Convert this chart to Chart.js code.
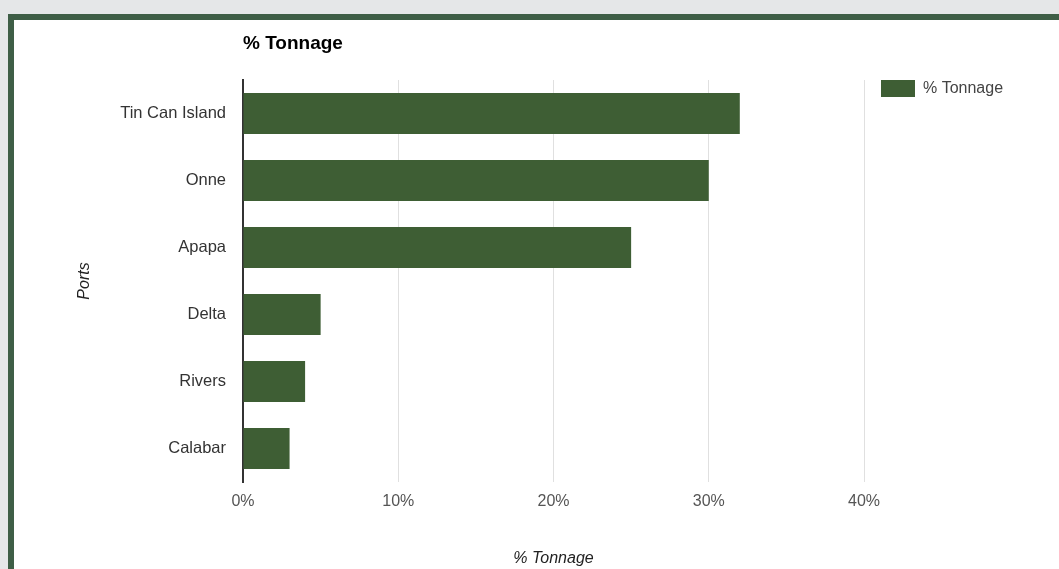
<!DOCTYPE html>
<html>
<head>
<meta charset="utf-8">
<script src="https://cdn.jsdelivr.net/npm/chart.js@4"></script>
<style>
  body { margin: 0; background: #e5e7e8; width: 1059px; height: 569px; overflow: hidden; position: relative; }
  #frame { position: absolute; left: 8px; top: 14px; right: 0; bottom: 0; background: #fff;
           border-top: 6px solid #3e5e46; border-left: 6px solid #3e5e46; }
  #wrap { position: absolute; left: 0; top: 0; width: 1059px; height: 569px; }
</style>
</head>
<body>
<div id="frame"></div>
<div id="wrap"><canvas id="bar-chart" width="1059" height="569"></canvas></div>
<script>
// data
var ports = ["Tin Can Island", "Onne", "Apapa", "Delta", "Rivers", "Calabar"];
var tonnage = [32, 30, 25, 5, 4, 3];
var xTicks = [0, 10, 20, 30, 40];

var FONT = "'Liberation Sans', Arial, sans-serif";

// pull the legend up so the first item sits level with the top of the plot
var legendNudge = {
  id: 'legendNudge',
  afterLayout(chart) {
    var l = chart.legend;
    if (!l) return;
    var p = l.options.labels.padding;
    l.top -= p;
    l.bottom -= p;
  }
};

new Chart(document.getElementById("bar-chart"), {
  type: 'bar',
  data: {
    labels: ports,
    datasets: [{
      label: "% Tonnage",
      data: tonnage,
      backgroundColor: "#3e5e34",
      borderWidth: 0,
      categoryPercentage: 1,
      barPercentage: 0.61
    }]
  },
  options: {
    indexAxis: 'y',
    responsive: false,
    animation: false,
    layout: { padding: { top: 20, left: 75, right: 55, bottom: 1 } },
    plugins: {
      title: {
        display: true,
        text: '% Tonnage',
        align: 'start',
        fullSize: false,
        color: '#000',
        font: { family: FONT, size: 19, weight: 'bold' },
        padding: { top: 12.4, bottom: 24.8 }
      },
      legend: {
        position: 'right',
        align: 'start',
        fullSize: false,
        maxWidth: 140,
        labels: {
          boxWidth: 34,
          boxHeight: 17,
          padding: 17,
          color: '#444',
          font: { family: FONT, size: 16 }
        }
      },
      tooltip: { enabled: false }
    },
    scales: {
      x: {
        min: 0,
        max: 40,
        afterBuildTicks(scale) { scale.ticks = xTicks.map(v => ({ value: v })); },
        afterFit(scale) { scale.height = 86; },
        grid: { color: '#e0e0e0', drawTicks: false },
        border: { display: false },
        ticks: {
          padding: 10,
          color: '#555',
          font: { family: FONT, size: 16 },
          callback: v => v + '%'
        },
        title: {
          display: true,
          text: '% Tonnage',
          color: '#222',
          font: { family: FONT, size: 16, style: 'italic' },
          padding: { top: 0, bottom: 0 }
        }
      },
      y: {
        afterFit(scale) { scale.width = 168; },
        grid: { display: false, drawTicks: false },
        border: { display: true, color: '#333', width: 2 },
        ticks: {
          padding: 17,
          color: '#333',
          font: { family: FONT, size: 16.5 }
        },
        title: {
          display: true,
          text: 'Ports',
          color: '#222',
          font: { family: FONT, size: 16, style: 'italic' },
          padding: { top: 0, bottom: 0 }
        }
      }
    }
  },
  plugins: [legendNudge]
});
</script>
</body>
</html>
